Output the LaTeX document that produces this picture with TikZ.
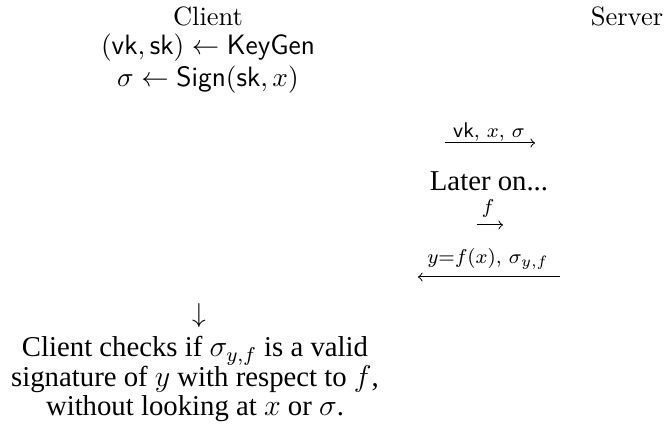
\documentclass[tikz,border=0pt]{standalone}
\usepackage{fontspec}
\newfontfamily\notefont{Liberation Serif}

\begin{document}
\begin{tikzpicture}[x=0.4pt,y=-0.4pt]

    \tikzset{
      party/.style={
        font=\fontsize{10.6}{12}\selectfont,
        inner sep=0pt,
      },
      keystep/.style={
        font=\fontsize{11.2}{13}\selectfont,
        inner sep=0pt,
      },
      msgarrow/.style={
        ->,
        line width=0.4pt,
      },
      msglabel/.style={
        font=\fontsize{8.5}{10}\selectfont,
        inner sep=0pt,
      },
      notetext/.style={
        font=\notefont\fontsize{11.5}{11.8}\selectfont,
        align=center,
        inner sep=0pt,
      },
    }

	\useasboundingbox (0,0) rectangle (669,433);

	% the two parties
	\node[party] (client) at (208,16) {Client};
	\node[party] (server) at (627,16) {Server};
	\node[keystep] (keygen) at (208,48) {$(\mathsf{vk},\mathsf{sk}) \leftarrow \mathsf{KeyGen}$};
	\node[keystep] (sign) at (208,80) {$\sigma \leftarrow \mathsf{Sign}(\mathsf{sk},x)$};

	% messages
	\coordinate (vkstart) at (445,143);
	\coordinate (vkend) at (535,143);
	\draw[msgarrow] (vkstart)--(vkend);
	\node[msglabel] (vklabel) at (489,132) {$\mathsf{vk},\, x,\, \sigma$};

	\node[notetext] (later) at (489,181) {Later on...};

	\coordinate (fstart) at (477,225);
	\coordinate (fend) at (503,225);
	\draw[msgarrow] (fstart)--(fend);
	\node[msglabel] (flabel) at (488,208) {$f$};

	\coordinate (ystart) at (560,277);
	\coordinate (yend) at (418,277);
	\draw[msgarrow] (ystart)--(yend);
	\node[msglabel] (ylabel) at (488,259) {$y{=}f(x),\, \sigma_{y,f}$};

	% verification
	\node[keystep] (down) at (199,316) {$\downarrow$};
	\node[notetext] (check) at (195,379) {Client checks if $\sigma_{y,f}$ is a valid\\signature of $y$ with respect to $f$,\\without looking at $x$ or $\sigma$.};

\end{tikzpicture}
\end{document}
